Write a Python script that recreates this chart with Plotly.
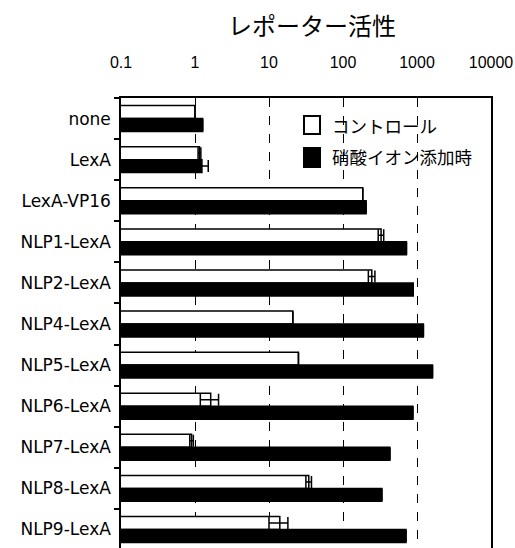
import plotly.graph_objects as go

categories = ["none", "LexA", "LexA-VP16", "NLP1-LexA", "NLP2-LexA", "NLP4-LexA",
              "NLP5-LexA", "NLP6-LexA", "NLP7-LexA", "NLP8-LexA", "NLP9-LexA"]
control = [1.0, 1.15, 185, 327, 245, 21, 25, 1.63, 0.9, 34.5, 14]
control_err = [0, 0.05, 0, 28, 25, 0, 0, 0.45, 0.05, 3, 4]
nitrate = [1.27, 1.24, 205, 720, 890, 1220, 1620, 880, 430, 335, 710]
nitrate_err = [0, 0.27, 0, 0, 0, 0, 0, 0, 0, 0, 0]
tick_vals = [0.1, 1, 10, 100, 1000, 10000]
tick_text = ["0.1", "1", "10", "100", "1000", "10000"]
series_names = ["コントロール", "硝酸イオン添加時"]
title_text = "レポーター活性"

W, H = 515, 548
L, R, T, B = 121, 24, 98, 0
pw, ph = W - L - R, H - T - B


def px(x):
    return (x - L) / pw


def py(y):
    return (H - B - y) / ph


fig = go.Figure()
fig.add_trace(go.Bar(
    y=categories, x=control, orientation="h", name=series_names[0],
    marker=dict(color="white", line=dict(color="black", width=1.5)),
    error_x=dict(type="data", array=control_err, visible=True, color="black",
                 thickness=1.5, width=6),
    showlegend=False,
))
fig.add_trace(go.Bar(
    y=categories, x=nitrate, orientation="h", name=series_names[1],
    marker=dict(color="black", line=dict(color="black", width=1.5)),
    error_x=dict(type="data", array=nitrate_err, visible=True, color="black",
                 thickness=1.5, width=6),
    showlegend=False,
))

font_latin = "Liberation Sans, Arial, sans-serif"
font_label = "DejaVu Sans, sans-serif"
font_jp = "Noto Sans CJK JP, sans-serif"

fig.update_layout(
    width=W, height=H,
    margin=dict(l=L, r=R, t=T, b=B, pad=0, autoexpand=False),
    paper_bgcolor="white", plot_bgcolor="white",
    barmode="group", bargap=0.37, bargroupgap=0,
    font=dict(family=font_latin, size=15, color="black"),
    xaxis=dict(
        type="log", range=[-1, 4], side="top", automargin=False,
        tickmode="array", tickvals=tick_vals, ticktext=tick_text,
        ticks="", ticklabelstandoff=22,
        tickfont=dict(size=16, family=font_latin, color="black"),
        showgrid=True, gridcolor="black", gridwidth=1, griddash="dash",
        showline=True, linecolor="black", linewidth=2,
        zeroline=False,
    ),
    yaxis=dict(
        type="category", categoryorder="array", categoryarray=categories,
        range=[10.45, -0.5], automargin=False,
        tickson="boundaries", ticks="outside", ticklen=5, tickwidth=1.5,
        tickcolor="black",
        tickfont=dict(size=17, family=font_label, color="black"),
        ticklabelstandoff=5,
        showgrid=False, showline=True, linecolor="black", linewidth=1.5,
        mirror=True,
    ),
    annotations=[
        dict(text=title_text, x=px(312), y=py(24), xref="paper", yref="paper",
             showarrow=False, xanchor="center", yanchor="middle",
             font=dict(family=font_jp, size=24, color="black")),
        dict(text=series_names[0], x=px(330), y=py(126), xref="paper", yref="paper",
             showarrow=False, xanchor="left", yanchor="middle",
             font=dict(family=font_jp, size=17.5, color="black")),
        dict(text=series_names[1], x=px(330), y=py(157), xref="paper", yref="paper",
             showarrow=False, xanchor="left", yanchor="middle",
             font=dict(family=font_jp, size=17.5, color="black")),
    ],
    shapes=[
        dict(type="rect", xref="paper", yref="paper",
             x0=px(304), x1=px(320), y0=py(134), y1=py(116),
             fillcolor="white", line=dict(color="black", width=2)),
        dict(type="rect", xref="paper", yref="paper",
             x0=px(304), x1=px(320), y0=py(167), y1=py(148),
             fillcolor="black", line=dict(color="black", width=2)),
    ],
)

fig.write_html("out.html", config={"displayModeBar": False},
               post_script="document.body.style.margin='0';")
